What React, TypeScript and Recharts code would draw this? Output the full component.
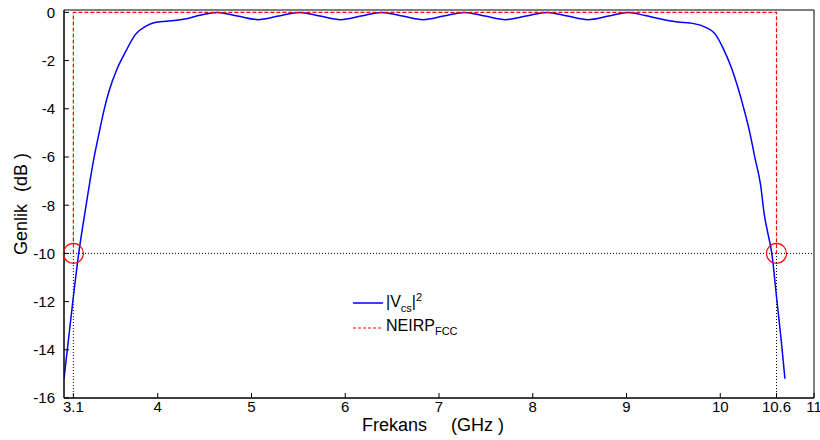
import {
  Legend,
  Line,
  LineChart,
  ReferenceArea,
  ReferenceDot,
  ReferenceLine,
  XAxis,
  YAxis,
} from 'recharts';

// |Vcs|^2 response (GHz, dB)
const freqGHz = [
  3.0, 3.05, 3.1, 3.157, 3.231, 3.32, 3.38, 3.43, 3.48, 3.57, 3.66, 3.76, 3.87, 3.98, 4.18, 4.32, 4.45,
  4.63, 4.85, 5.07, 5.29, 5.51, 5.73, 5.95, 6.17, 6.39, 6.61, 6.83, 7.05, 7.27, 7.49, 7.71, 7.93, 8.15, 8.37,
  8.59, 8.81, 9.02, 9.2, 9.4, 9.55, 9.68, 9.82, 9.95, 10.03, 10.12, 10.19, 10.25, 10.32, 10.37, 10.43, 10.47,
  10.51, 10.55, 10.6, 10.65, 10.69,
];
const vcsDb = [
  -15.2, -13.5, -11.8, -10, -8.12, -6.04, -4.9, -4.0, -3.27, -2.31, -1.61, -0.92, -0.58, -0.41, -0.34, -0.25,
  -0.12, 0, -0.15, -0.3, -0.15, 0, -0.15, -0.3, -0.15, 0, -0.15, -0.3, -0.15, 0, -0.15, -0.3, -0.15, 0, -0.15,
  -0.3, -0.15, 0, -0.13, -0.3, -0.4, -0.44, -0.58, -0.92, -1.48, -2.31, -3.14, -3.97, -5.07, -6.04, -7.15,
  -8.4, -9.2, -10, -11.8, -13.6, -15.2,
];

// FCC indoor mask
const neirpFreq = [3.1, 3.1, 10.6, 10.6];
const neirpDb = [-10, 0, 0, -10];

const xTicks = [3.1, 4, 5, 6, 7, 8, 9, 10, 10.6, 11];
const yTicks = [0, -2, -4, -6, -8, -10, -12, -14, -16];
const xDomain = [3, 11];
const yDomain = [-16, 0.1];
const cutoffDb = -10;
const bandEdges = [3.1, 10.6];

const vcsData = freqGHz.map((f, i) => ({ f, db: vcsDb[i] }));
const neirpData = neirpFreq.map((f, i) => ({ f, db: neirpDb[i] }));

const FONT = '"Liberation Sans", Arial, sans-serif';
const tickStyle = { fontSize: 15, fill: '#000', fontFamily: FONT };
const noLabel = () => <g />;

const xTitle = (props: any) => {
  const { x, y } = props.viewBox;
  return (
    <text x={x + 298} y={y + 33} fontSize={18} fontFamily={FONT} fill="#000">
      Frekans
      <tspan dx={24}>(GHz )</tspan>
    </text>
  );
};

const yTitle = () => (
  <text x={27} y={255} transform="rotate(-90 27 255)" fontSize={18} fontFamily={FONT} fill="#000">
    Genlik
    <tspan dx={12}>(dB )</tspan>
  </text>
);

function LegendBox() {
  const row = { display: 'flex', alignItems: 'center', height: 25 } as const;
  return (
    <div style={{ fontFamily: FONT, fontSize: 16, color: '#000', lineHeight: 1 }}>
      <div style={row}>
        <svg width={34} height={4}>
          <line x1={1} x2={31} y1={2} y2={2} stroke="#0000ff" strokeWidth={1.5} />
        </svg>
        <span>
          |V<sub style={{ fontSize: 11 }}>cs</sub>|<sup style={{ fontSize: 11 }}>2</sup>
        </span>
      </div>
      <div style={row}>
        <svg width={34} height={4}>
          <line x1={1} x2={31} y1={2} y2={2} stroke="#ff0000" strokeWidth={1.2} strokeDasharray="3 2" />
        </svg>
        <span>
          NEIRP<sub style={{ fontSize: 11 }}>FCC</sub>
        </span>
      </div>
    </div>
  );
}

export default function App() {
  return (
    <div style={{ position: 'absolute', left: 0, top: 0, background: '#fff' }}>
      <LineChart width={820} height={440} margin={{ top: 10, right: 6, bottom: 0, left: 0 }}>
        <XAxis
          dataKey="f"
          type="number"
          domain={xDomain}
          ticks={xTicks}
          interval={0}
          allowDataOverflow
          height={42}
          tickSize={-5}
          tickMargin={8}
          tick={tickStyle}
          stroke="#000"
          tickLine={{ stroke: '#000' }}
          label={xTitle}
        />
        <XAxis
          xAxisId="top"
          orientation="top"
          dataKey="f"
          type="number"
          domain={xDomain}
          ticks={xTicks}
          interval={0}
          allowDataOverflow
          height={0}
          tickSize={-5}
          tick={noLabel}
          stroke="#000"
          tickLine={{ stroke: '#000' }}
        />
        <YAxis
          type="number"
          domain={yDomain}
          ticks={yTicks}
          interval={0}
          allowDataOverflow
          width={64}
          tickSize={-5}
          tickMargin={14}
          tick={tickStyle}
          stroke="#000"
          tickLine={{ stroke: '#000' }}
          label={yTitle}
        />
        <YAxis
          yAxisId="right"
          orientation="right"
          type="number"
          domain={yDomain}
          ticks={yTicks}
          interval={0}
          allowDataOverflow
          width={0}
          tickSize={-5}
          tick={noLabel}
          stroke="#000"
          tickLine={{ stroke: '#000' }}
        />

        <ReferenceLine y={cutoffDb} stroke="#000" strokeDasharray="1 2" />
        {bandEdges.map((f) => (
          <ReferenceLine
            key={`edge-${f}`}
            segment={[
              { x: f, y: yDomain[0] },
              { x: f, y: cutoffDb },
            ]}
            stroke="#000"
            strokeDasharray="1 2"
          />
        ))}

        <Line
          data={vcsData}
          dataKey="db"
          type="monotone"
          stroke="#0000ff"
          strokeWidth={1.5}
          dot={false}
          activeDot={false}
          isAnimationActive={false}
          name="vcs"
        />
        <Line
          data={neirpData}
          dataKey="db"
          type="linear"
          stroke="#ff0000"
          strokeWidth={1.2}
          strokeDasharray="4 2"
          dot={false}
          activeDot={false}
          isAnimationActive={false}
          name="neirp"
        />

        {bandEdges.map((f) => (
          <ReferenceDot
            key={`mark-${f}`}
            x={f}
            y={cutoffDb}
            r={10}
            fill="none"
            stroke="#ff0000"
            strokeWidth={1.2}
          />
        ))}

        <ReferenceArea
          x1={xDomain[0]}
          x2={xDomain[1]}
          y1={yDomain[0]}
          y2={yDomain[1]}
          fill="none"
          stroke="#000"
          strokeWidth={1}
          fillOpacity={0}
        />

        <Legend
          layout="vertical"
          align="center"
          verticalAlign="middle"
          content={<LegendBox />}
          wrapperStyle={{ left: 352, top: 290, width: 'auto' }}
        />
      </LineChart>
    </div>
  );
}
